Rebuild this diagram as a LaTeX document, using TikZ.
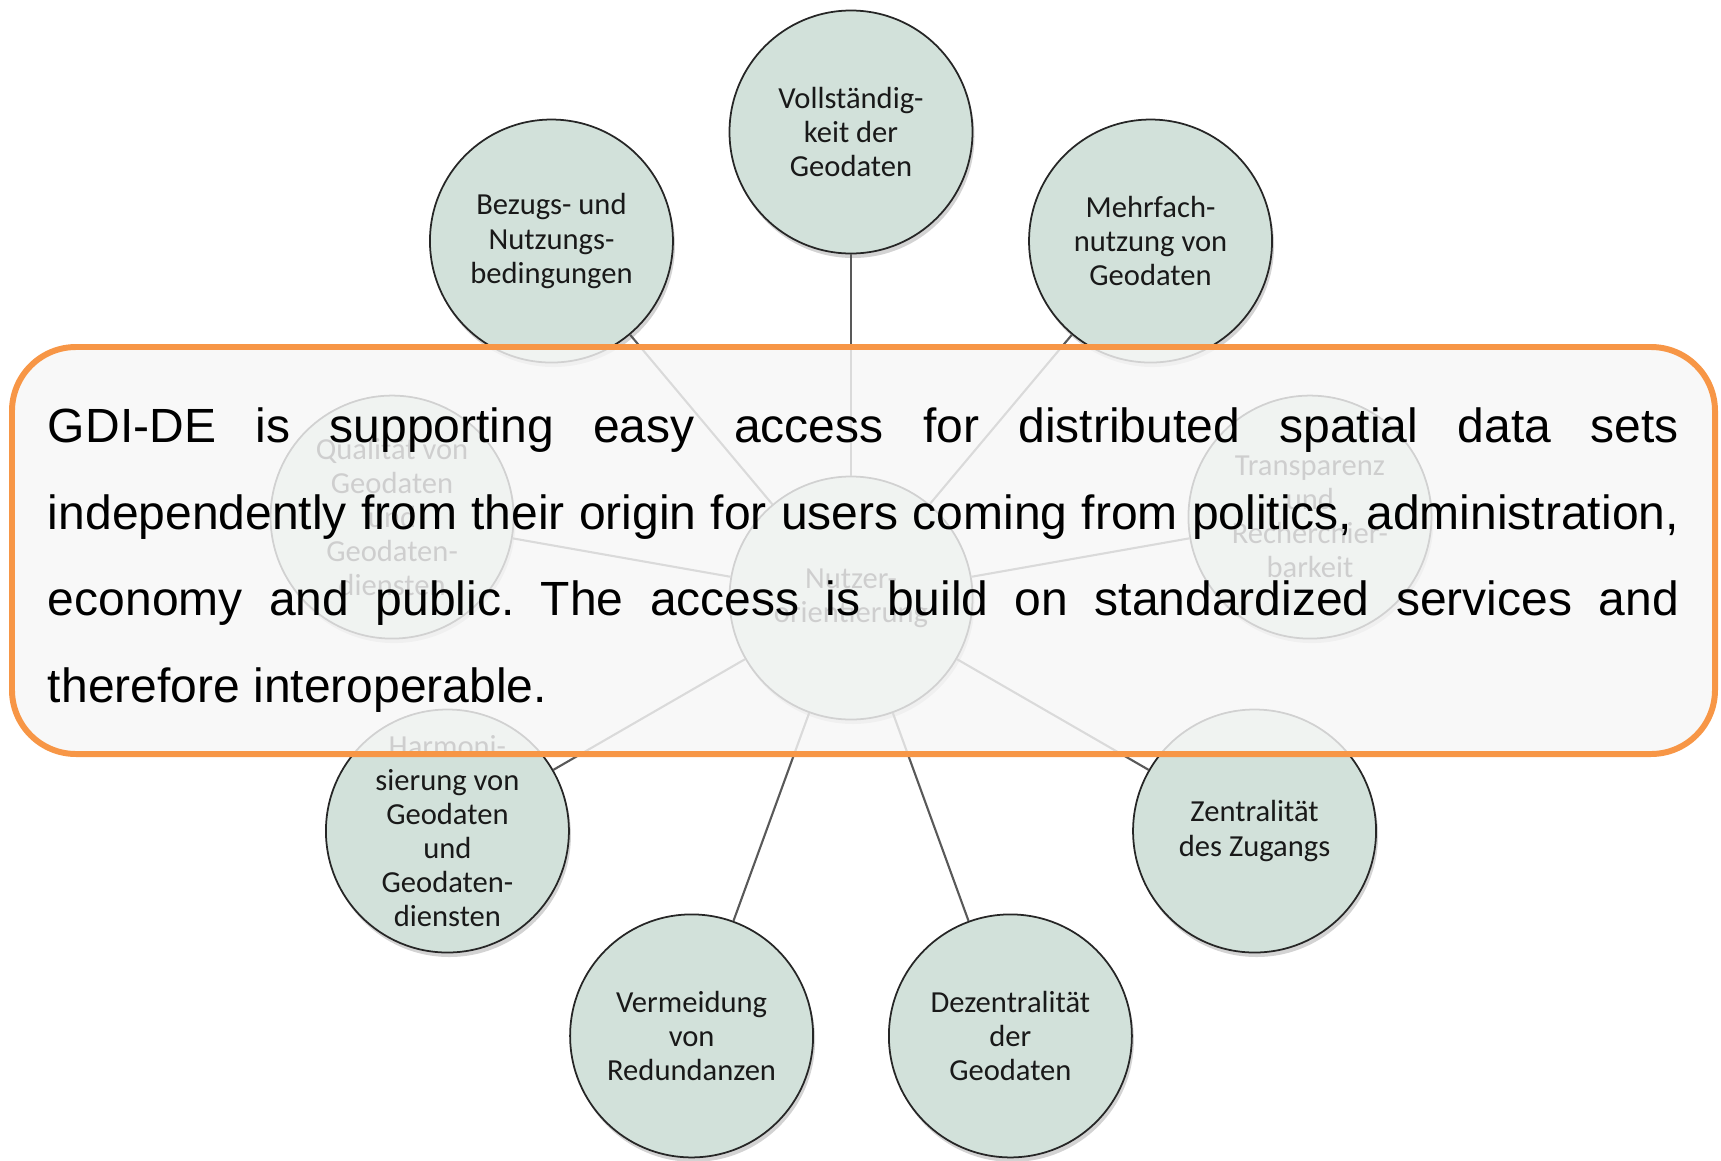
\documentclass[tikz,border=0pt]{standalone}
\usepackage{fontspec}
\setmainfont{Liberation Sans}
\newfontfamily\circfont{Carlito}
\usetikzlibrary{shadows}

\definecolor{sage}{RGB}{210,225,218}
\definecolor{boxorange}{RGB}{247,150,70}
\definecolor{boxgrey}{RGB}{247,247,247}

\tikzset{
    goal/.style={
        shape=circle,
        draw=black!85,
        line width=0.5pt,
        fill=sage,
        minimum size=2.43cm,
        inner sep=0pt,
        align=center,
        text=black!90,
        font=\circfont\fontsize{8.7}{9.7}\selectfont,
        drop shadow={shadow xshift=0.02cm, shadow yshift=-0.045cm, opacity=0.35},
    },
    hub/.style={
        goal,
    },
    spoke/.style={
        draw=black!65,
        line width=0.6pt,
        % thick,
    },
    infobox/.style={
        draw=boxorange,
        line width=1.7pt,
        fill=boxgrey,
        fill opacity=0.82,
        text opacity=1,
        rounded corners=0.64cm,
        minimum width=17.03cm,
        minimum height=4.07cm,
        text width=16.31cm,
        align=justify,
        inner xsep=0.36cm,
        inner ysep=0pt,
        font=\fontsize{13.66}{24.64}\selectfont,
    }
}

\begin{document}
\begin{tikzpicture}
    \useasboundingbox (-8.51,5.98) rectangle (8.70,-5.62);

    \node[hub] (nutzer) at (0,0) {Nutzer-\\orientierung};

    \foreach \ang/\nd/\txt in {
        90/voll/{Vollständig-\\keit der\\Geodaten},
        50/mehr/{Mehrfach-\\nutzung von\\Geodaten},
        10/trans/{Transparenz\\und\\Recherchier-\\barkeit},
        -30/zentr/{Zentralität\\des Zugangs},
        -70/dezen/{Dezentralität\\der\\Geodaten},
        -110/verm/{Vermeidung\\von\\Redundanzen},
        -150/harm/{Harmoni-\\sierung von\\Geodaten\\und\\Geodaten-\\diensten},
        170/qual/{Qualität von\\Geodaten\\und\\Geodaten-\\diensten},
        130/bezug/{Bezugs- und\\Nutzungs-\\bedingungen}}
    {
        \node[goal] (\nd) at (\ang:4.66) {\txt};
        \draw[spoke] (nutzer) -- (\nd);
    }

    % text box on top
    \node[infobox] (info) at (0.125,0.475) {\hyphenpenalty=10000\frenchspacing\rule{0pt}{19.8pt}GDI-DE is supporting easy access for distributed spatial data sets\linebreak
        independently from their origin for users coming from politics, administration,\linebreak
        economy and public. The access is build on standardized services and\linebreak
        therefore interoperable.\strut};
\end{tikzpicture}
\end{document}
